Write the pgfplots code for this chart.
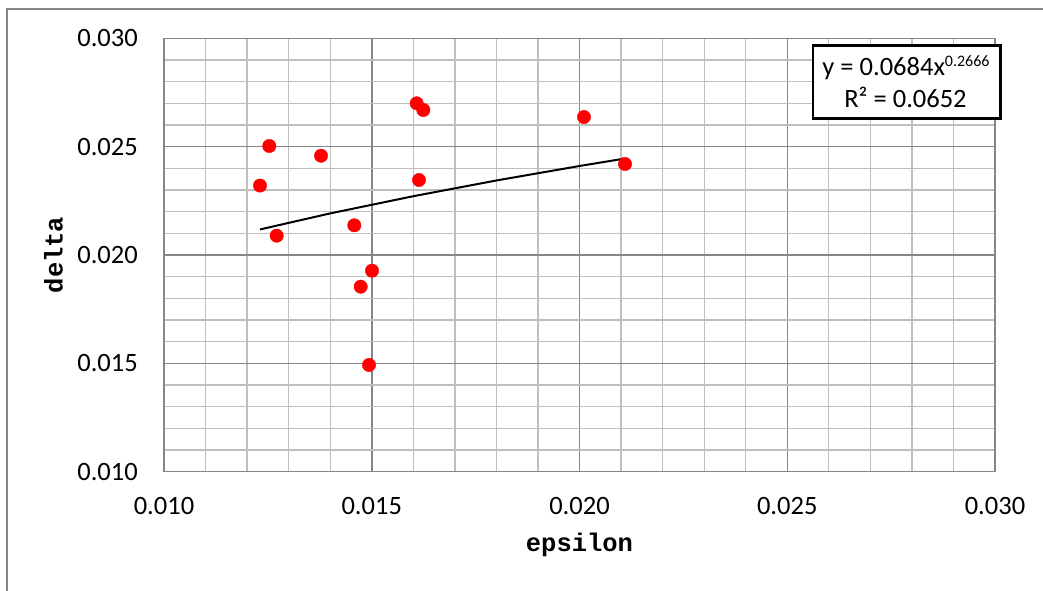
\documentclass[border=0pt]{standalone}
\usepackage{pgfplots}
\pgfplotsset{compat=1.18}
\usepackage{fontspec}
\setmainfont{Carlito}
\newfontfamily\monofont{Liberation Mono}
\definecolor{majorgrid}{RGB}{134,134,134}
\definecolor{minorgrid}{RGB}{191,191,191}
\definecolor{framegray}{RGB}{134,134,134}
\begin{document}
\begin{tikzpicture}
\useasboundingbox (0,0) rectangle (1043pt,590pt);
\fill[white] (0,0) rectangle (1043pt,590pt);
\draw[framegray, line width=1.3pt] (7pt,-2pt) -- (7pt,581pt) -- (1045pt,581pt);
\begin{axis}[
  at={(164pt,118.3pt)}, anchor=south west,
  scale only axis, width=831pt, height=433.4pt,
  xmin=0.010, xmax=0.030, ymin=0.010, ymax=0.030,
  xtick={0.010,0.015,0.020,0.025,0.030},
  ytick={0.010,0.015,0.020,0.025,0.030},
  minor tick num=4,
  grid=both,
  major grid style={majorgrid, line width=1.5pt},
  minor grid style={minorgrid, line width=1.3pt},
  axis line style={majorgrid, line width=1.5pt},
  major tick length=0pt, minor tick length=0pt,
  scaled ticks=false,
  /pgf/number format/fixed,
  /pgf/number format/fixed zerofill,
  /pgf/number format/precision=3,
  /pgf/number format/assume math mode=true,
  xticklabel style={font=\fontsize{26.5}{30}\selectfont, anchor=north, inner sep=0pt, yshift=-25.3pt},
  yticklabel style={font=\fontsize{26.5}{30}\selectfont, anchor=east, inner sep=0pt, xshift=-26pt},
  xlabel={epsilon},
  ylabel={delta},
  xlabel style={at={(axis description cs:0.5,-0.1846)}, anchor=base, font=\monofont\bfseries\fontsize{25.5}{30}\selectfont},
  ylabel style={at={(axis description cs:-0.1219,0.5)}, anchor=base, font=\monofont\bfseries\fontsize{25.5}{30}\selectfont},
]
\addplot[black, line width=2pt, no marks] coordinates {
  (0.01231,0.021179) (0.014,0.021920) (0.016,0.022713) (0.018,0.023439) (0.020,0.024107) (0.021095,0.024452)
};
\addplot[only marks, mark=*, mark size=6.7pt, color=red, mark options={draw=red, fill=red}] coordinates {
  (0.012534,0.025030)
  (0.012310,0.023203)
  (0.012712,0.020891)
  (0.013779,0.024582)
  (0.014580,0.021370)
  (0.014734,0.018537)
  (0.015006,0.019276)
  (0.014934,0.014924)
  (0.016082,0.027000)
  (0.016241,0.026691)
  (0.016137,0.023461)
  (0.020108,0.026368)
  (0.021095,0.024200)
};
\end{axis}
\filldraw[fill=white, draw=black, line width=2.8pt] (813pt,471.3pt) rectangle (1000.7pt,544.7pt);
\node[anchor=base, inner sep=0pt, font=\fontsize{26.5}{30}\selectfont] at (906pt,514pt) {y = 0.0684x\raisebox{9.5pt}{\fontsize{16}{18}\selectfont 0.2666}};
\node[anchor=base, inner sep=0pt, font=\fontsize{26.5}{30}\selectfont] at (905.5pt,482.7pt) {R² = 0.0652};
\end{tikzpicture}
\end{document}
